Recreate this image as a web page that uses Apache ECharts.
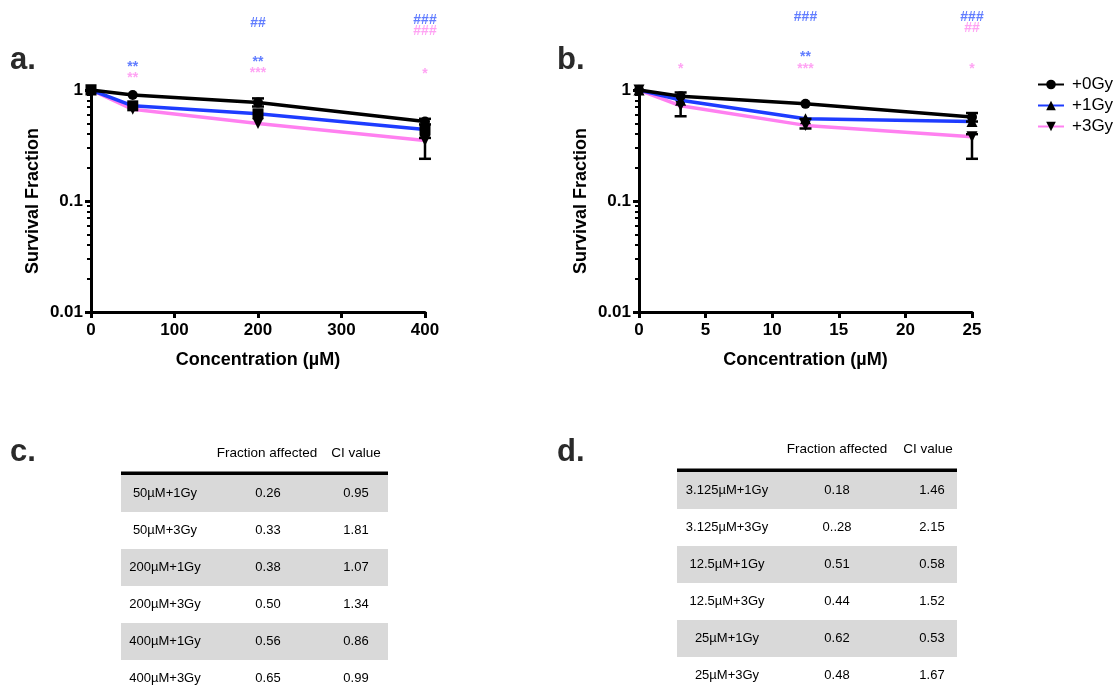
<!DOCTYPE html>
<html><head><meta charset="utf-8">
<script src="https://cdn.jsdelivr.net/npm/echarts@6/dist/echarts.min.js"></script>
<style>html,body{margin:0;padding:0;background:#fff}#c{width:1119px;height:690px}</style>
</head><body><div id="c"></div>
<script>
// ---------- data ----------
const seriesNames = ['+0Gy', '+1Gy', '+3Gy'];
const concA = [0, 50, 200, 400];
const concB = [0, 3.125, 12.5, 25];
const a0Gy = [1, 0.90, 0.77, 0.52];
const a1Gy = [1, 0.72, 0.61, 0.44];
const a3Gy = [1, 0.67, 0.50, 0.35];
const b0Gy = [1, 0.88, 0.75, 0.57];
const b1Gy = [1, 0.81, 0.55, 0.52];
const b3Gy = [1, 0.72, 0.48, 0.38];
// error bars: [x, low, high]
const errA = [[200, 0.71, 0.84], [400, 0.24, 0.37], [400, 0.49, 0.55]];
const errB = [[3.125, 0.58, 0.95], [25, 0.24, 0.40], [25, 0.52, 0.62], [12.5, 0.45, 0.55]];
// significance annotations: [x, level (px from top), text, group]
const sigA = [[50, 67, '**', 1], [50, 78, '**', 3], [200, 23, '##', 1], [200, 62, '**', 1], [200, 73, '***', 3],
              [400, 20, '###', 1], [400, 31, '###', 3], [400, 74, '*', 3]];
const sigB = [[3.125, 69, '*', 3], [12.5, 17, '###', 1], [12.5, 57, '**', 1], [12.5, 69, '***', 3],
              [25, 17, '###', 1], [25, 28, '##', 3], [25, 69, '*', 3]];
const yTicks = [0.01, 0.1, 1];
const yMinor = [0.02,0.03,0.04,0.05,0.06,0.07,0.08,0.09,0.2,0.3,0.4,0.5,0.6,0.7,0.8,0.9];
const tableHeader = ['Fraction affected', 'CI value'];
const tableCLabels = ['50\u00b5M+1Gy', '50\u00b5M+3Gy', '200\u00b5M+1Gy', '200\u00b5M+3Gy', '400\u00b5M+1Gy', '400\u00b5M+3Gy'];
const tableCFa = ['0.26', '0.33', '0.38', '0.50', '0.56', '0.65'];
const tableCCI = ['0.95', '1.81', '1.07', '1.34', '0.86', '0.99'];
const tableDLabels = ['3.125\u00b5M+1Gy', '3.125\u00b5M+3Gy', '12.5\u00b5M+1Gy', '12.5\u00b5M+3Gy', '25\u00b5M+1Gy', '25\u00b5M+3Gy'];
const tableDFa = ['0.18', '0..28', '0.51', '0.44', '0.62', '0.48'];
const tableDCI = ['1.46', '2.15', '0.58', '1.52', '0.53', '1.67'];

// ---------- style ----------
const FONT = '"Liberation Sans", Arial, Helvetica, sans-serif';
const lineColors = ['#000000', '#1e3cff', '#ff80f0'];
const sigColors = {1: '#3a5cff', 3: '#ff8cf0'};

const chart = echarts.init(document.getElementById('c'));

function xAxisDef(grid, min, max, interval) {
  return {
    type: 'value', gridIndex: grid, min, max, interval,
    name: 'Concentration (\u00b5M)', nameLocation: 'middle', nameGap: 39,
    nameTextStyle: {fontFamily: FONT, fontWeight: 'bold', fontSize: 18, color: '#000'},
    axisLine: {show: true, onZero: false, lineStyle: {color: '#000', width: 3}},
    axisTick: {show: true, length: 6, lineStyle: {color: '#000', width: 3}},
    axisLabel: {fontFamily: FONT, fontWeight: 'bold', fontSize: 17, color: '#000', margin: 10},
    splitLine: {show: false}
  };
}
function yAxisDef(grid) {
  return {
    type: 'log', logBase: 10, gridIndex: grid, min: 0.01, max: 1,
    name: 'Survival Fraction', nameLocation: 'middle', nameGap: 49, nameRotate: 90,
    nameTextStyle: {fontFamily: FONT, fontWeight: 'bold', fontSize: 18, color: '#000'},
    axisLine: {show: true, onZero: false, lineStyle: {color: '#000', width: 3}},
    axisTick: {show: true, length: 6, lineStyle: {color: '#000', width: 3}, customValues: yTicks},
    axisLabel: {fontFamily: FONT, fontWeight: 'bold', fontSize: 17, color: '#000', margin: 8,
      customValues: yTicks, formatter: v => String(v)},
    splitLine: {show: false}
  };
}
function yMinorDef(grid) {
  return {
    type: 'log', logBase: 10, gridIndex: grid, min: 0.01, max: 1, position: 'left',
    axisLine: {show: false},
    axisTick: {show: true, length: 4, lineStyle: {color: '#000', width: 2}, customValues: yMinor},
    axisLabel: {show: false},
    splitLine: {show: false}
  };
}
function annoX(grid, min, max) {
  return {type: 'value', gridIndex: grid, min, max, show: false};
}
function annoY(grid) {
  return {type: 'value', gridIndex: grid, min: 0, max: 90, inverse: true, show: false};
}

function lineSeries(name, idx, xs, ys, xi, yi, symbol, rotate) {
  return {
    name, type: 'line', xAxisIndex: xi, yAxisIndex: yi,
    data: xs.map((x, i) => [x, ys[i]]),
    symbol, symbolSize: symbol === 'circle' ? 10 : 11, symbolRotate: rotate || 0,
    showSymbol: true, clip: false, z: 3 + (2 - idx),
    lineStyle: {color: lineColors[idx], width: 3.5},
    itemStyle: {color: '#000'},
    emphasis: {disabled: true}, animation: false
  };
}
function errSeries(data, xi, yi) {
  return {
    type: 'custom', xAxisIndex: xi, yAxisIndex: yi, data, clip: false, z: 6, animation: false,
    renderItem: (params, api) => {
      const x = api.value(0);
      const lo = api.coord([x, api.value(1)]);
      const hi = api.coord([x, api.value(2)]);
      const w = 6;
      const st = {stroke: '#000', lineWidth: 2.5};
      return {type: 'group', children: [
        {type: 'line', shape: {x1: lo[0], y1: lo[1], x2: hi[0], y2: hi[1]}, style: st},
        {type: 'line', shape: {x1: lo[0] - w, y1: lo[1], x2: lo[0] + w, y2: lo[1]}, style: st},
        {type: 'line', shape: {x1: hi[0] - w, y1: hi[1], x2: hi[0] + w, y2: hi[1]}, style: st}
      ]};
    }
  };
}
function sigSeries(data, xi, yi) {
  return {
    type: 'scatter', xAxisIndex: xi, yAxisIndex: yi, symbolSize: 0, animation: false, silent: true,
    data: data.map(d => ({value: [d[0], d[1]], label: {show: true, position: 'inside', formatter: d[2],
      color: sigColors[d[3]], fontFamily: FONT, fontWeight: 'bold', fontSize: 14}}))
  };
}

// ---------- tables via graphic ----------
function tableGraphics(labels, fa, ci, opt) {
  const g = [];
  g.push({type: 'text', x: opt.hdrFa, y: opt.hdrY, style: {text: tableHeader[0], font: '13.5px ' + FONT, fill: '#000', align: 'center', verticalAlign: 'middle'}});
  g.push({type: 'text', x: opt.hdrCi, y: opt.hdrY, style: {text: tableHeader[1], font: '13.5px ' + FONT, fill: '#000', align: 'center', verticalAlign: 'middle'}});
  g.push({type: 'rect', shape: {x: opt.x0, y: opt.lineY - 1.5, width: opt.x1 - opt.x0, height: 3.5}, style: {fill: '#000'}});
  labels.forEach((lab, i) => {
    const top = opt.rowTop + i * opt.rowH;
    const cy = top + opt.rowH / 2;
    if (i % 2 === 0) g.push({type: 'rect', shape: {x: opt.x0, y: top, width: opt.x1 - opt.x0, height: opt.rowH}, style: {fill: '#d9d9d9'}});
    [[lab, opt.cLab], [fa[i], opt.cFa], [ci[i], opt.cCi]].forEach(([t, cx]) => {
      g.push({type: 'text', x: cx, y: cy, z: 10, style: {text: t, font: '13px ' + FONT, fill: '#000', align: 'center', verticalAlign: 'middle'}});
    });
  });
  return g;
}

const graphics = [
  {type: 'text', x: 10, y: 60, style: {text: 'a.', font: 'bold 31px ' + FONT, fill: '#2a2a2a', verticalAlign: 'middle'}},
  {type: 'text', x: 557, y: 60, style: {text: 'b.', font: 'bold 31px ' + FONT, fill: '#2a2a2a', verticalAlign: 'middle'}},
  {type: 'text', x: 10, y: 452, style: {text: 'c.', font: 'bold 31px ' + FONT, fill: '#2a2a2a', verticalAlign: 'middle'}},
  {type: 'text', x: 557, y: 452, style: {text: 'd.', font: 'bold 31px ' + FONT, fill: '#2a2a2a', verticalAlign: 'middle'}},
  ...tableGraphics(tableCLabels, tableCFa, tableCCI, {hdrFa: 267, hdrCi: 356, hdrY: 453, x0: 121, x1: 388, lineY: 473, rowTop: 475, rowH: 37, cLab: 165, cFa: 268, cCi: 356}),
  ...tableGraphics(tableDLabels, tableDFa, tableDCI, {hdrFa: 837, hdrCi: 928, hdrY: 449, x0: 677, x1: 957, lineY: 470, rowTop: 472, rowH: 37, cLab: 727, cFa: 837, cCi: 932})
];

const option = {
  animation: false,
  backgroundColor: '#fff',
  grid: [
    {left: 91, top: 90, width: 334, height: 222},
    {left: 639, top: 90, width: 333, height: 222},
    {left: 91, top: 0, width: 334, height: 90},
    {left: 639, top: 0, width: 333, height: 90}
  ],
  xAxis: [xAxisDef(0, 0, 400, 100), xAxisDef(1, 0, 25, 5), annoX(2, 0, 400), annoX(3, 0, 25)],
  yAxis: [yAxisDef(0), yAxisDef(1), yMinorDef(0), yMinorDef(1), annoY(2), annoY(3)],
  legend: {
    orient: 'vertical', left: 1032, top: 71, itemWidth: 26, itemHeight: 12, itemGap: 4,
    data: seriesNames,
    textStyle: {fontFamily: FONT, fontSize: 17, color: '#000', padding: [0, 0, 0, 3]}
  },
  series: [
    lineSeries(seriesNames[0], 0, concB, b0Gy, 1, 1, 'circle'),
    lineSeries(seriesNames[1], 1, concB, b1Gy, 1, 1, 'triangle'),
    lineSeries(seriesNames[2], 2, concB, b3Gy, 1, 1, 'triangle', 180),
    lineSeries(seriesNames[0], 0, concA, a0Gy, 0, 0, 'circle'),
    lineSeries(seriesNames[1], 1, concA, a1Gy, 0, 0, 'rect'),
    lineSeries(seriesNames[2], 2, concA, a3Gy, 0, 0, 'triangle', 180),
    errSeries(errA, 0, 0),
    errSeries(errB, 1, 1),
    sigSeries(sigA, 2, 4),
    sigSeries(sigB, 3, 5)
  ],
  graphic: graphics
};
chart.setOption(option);
</script>
</body></html>
